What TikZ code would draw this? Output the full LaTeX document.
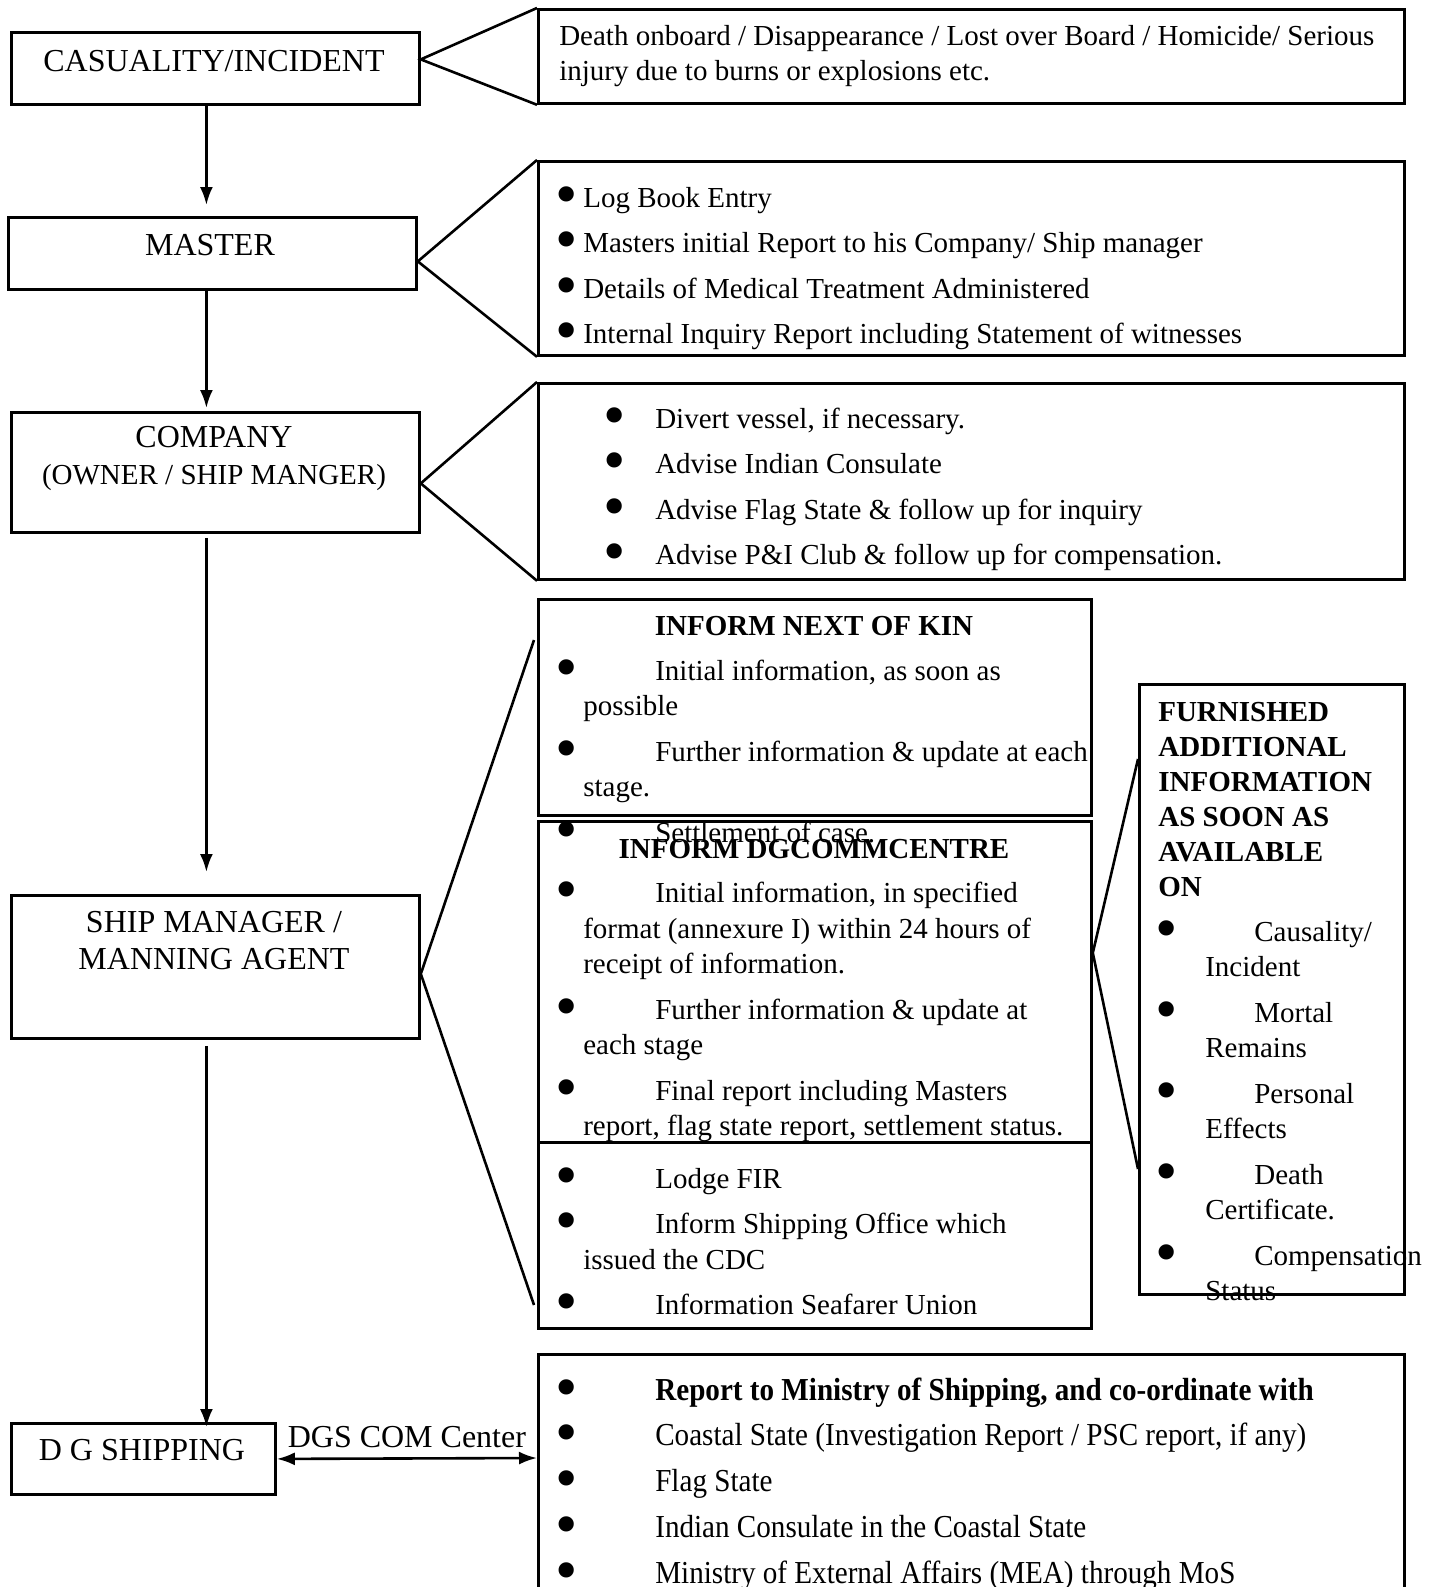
\documentclass[tikz,border=0pt]{standalone}
\usepackage{fontspec}
\setmainfont{Liberation Serif}
\newfontfamily\condserif[FakeStretch=0.91]{Liberation Serif}
\usetikzlibrary{arrows.meta}

\newcommand{\dotat}[1]{\llap{\smash{\raisebox{-8pt}{\scalebox{2.2}{\normalfont\fontsize{29}{29}\selectfont\textbullet}}}\hspace{#1}}}

\tikzset{
  box/.style={draw, line width=2.8pt, inner sep=0pt, anchor=north west},
  tag/.style={font=\fontsize{32}{37}\selectfont, align=center},
  list/.style={font=\fontsize{29}{35.5}\selectfont, align=left, anchor=base west, inner sep=0pt},
  head/.style={font=\bfseries\fontsize{29}{35}\selectfont, anchor=base, inner sep=0pt},
  fan/.style={line width=2.6pt},
}

\begin{document}
\begin{tikzpicture}[x=1pt, y=-1pt, >={Latex[length=18pt,width=13pt]}, line width=2.6pt]
\useasboundingbox (0,0) rectangle (1435,1587);
\clip (0,0) rectangle (1435,1587);

% left column
\node[box, minimum width=408, minimum height=72] (cas) at (10,31) {};
\node[box, minimum width=408, minimum height=72] (mst) at (7,216) {};
\node[box, minimum width=408, minimum height=120] (cmp) at (10,411) {};
\node[box, minimum width=408, minimum height=143] (shp) at (10,894) {};
\node[box, minimum width=264, minimum height=71] (dgs) at (10,1422) {};

\node[tag] (castxt) at (214,61) {CASUALITY/INCIDENT};
\node[tag] (msttxt) at (210,245) {MASTER};
\node[tag] (cmptxt) at (214,458) {COMPANY\\{\fontsize{29}{35}\selectfont(OWNER / SHIP MANGER)}};
\node[tag] (shptxt) at (214,941) {SHIP MANAGER /\\MANNING AGENT};
\node[tag] (dgstxt) at (142,1450) {D G SHIPPING};

% right column
\node[box, minimum width=866, minimum height=94] (death) at (537,8) {};
\node[box, minimum width=866, minimum height=194] (log) at (537,160) {};
\node[box, minimum width=866, minimum height=196] (divert) at (537,382) {};
\node[box, minimum width=553, minimum height=216] (nok) at (537,598) {};
\node[box, minimum width=553, minimum height=321] (dgc) at (537,820) {};
\node[box, minimum width=553, minimum height=186] (fir) at (537,1141) {};
\node[box, minimum width=265, minimum height=610] (furn) at (1138,683) {};
\node[box, minimum width=866, minimum height=300] (mos) at (537,1353) {};

% texts, placed by the baseline of their last line
\node[list] (deathtxt) at (558,80.5) {Death onboard / Disappearance / Lost over Board / Homicide/ Serious\\injury due to burns or explosions etc.};

\node[list] (logtxt) at (582,343.5) {\dotat{5pt}Log Book Entry\\[10pt]
\dotat{5pt}Masters initial Report to his Company/ Ship manager\\[10pt]
\dotat{5pt}Details of Medical Treatment Administered\\[10pt]
\dotat{5pt}Internal Inquiry Report including Statement of witnesses};

\node[list] (diverttxt) at (654,564.5) {\dotat{29pt}Divert vessel, if necessary.\\[10pt]
\dotat{29pt}Advise Indian Consulate\\[10pt]
\dotat{29pt}Advise Flag State \& follow up for inquiry\\[10pt]
\dotat{29pt}Advise P\&I Club \& follow up for compensation.};

\node[head] (nokhead) at (814,635) {INFORM NEXT OF KIN};
\node[list] (noktxt) at (582,842) {\dotat{5pt}\hspace*{72pt}Initial information, as soon as\\possible\\[10pt]
\dotat{5pt}\hspace*{72pt}Further information \& update at each\\stage.\\[10pt]
\dotat{5pt}\hspace*{72pt}Settlement of case.};

\node[head] (dgchead) at (814,858) {INFORM DGCOMMCENTRE};
\node[list] (dgctxt) at (582,1135.5) {\dotat{5pt}\hspace*{72pt}Initial information, in specified\\format (annexure I) within 24 hours of\\receipt of information.\\[10pt]
\dotat{5pt}\hspace*{72pt}Further information \& update at\\each stage\\[10pt]
\dotat{5pt}\hspace*{72pt}Final report including Masters\\report, flag state report, settlement status.};

\node[list] (firtxt) at (582,1314.5) {\dotat{5pt}\hspace*{72pt}Lodge FIR\\[10pt]
\dotat{5pt}\hspace*{72pt}Inform Shipping Office which\\issued the CDC\\[10pt]
\dotat{5pt}\hspace*{72pt}Information Seafarer Union};

\node[list, font=\bfseries\fontsize{29}{35}\selectfont] (furnhead) at (1157,896) {FURNISHED\\ADDITIONAL\\INFORMATION\\AS SOON AS\\AVAILABLE\\ON};
\node[list] (furntxt) at (1204,1300.5) {\dotat{27pt}\hspace*{49pt}Causality/\\Incident\\[10pt]
\dotat{27pt}\hspace*{49pt}Mortal\\Remains\\[10pt]
\dotat{27pt}\hspace*{49pt}Personal\\Effects\\[10pt]
\dotat{27pt}\hspace*{49pt}Death\\Certificate.\\[10pt]
\dotat{27pt}\hspace*{49pt}Compensation\\Status};

\node[list, font=\condserif\fontsize{32}{35.75}\selectfont] (mostxt) at (654,1583) {\dotat{77pt}\textbf{Report to Ministry of Shipping, and co-ordinate with}\\[10pt]
\dotat{77pt}Coastal State (Investigation Report / PSC report, if any)\\[10pt]
\dotat{77pt}Flag State\\[10pt]
\dotat{77pt}Indian Consulate in the Coastal State\\[10pt]
\dotat{77pt}Ministry of External Affairs (MEA) through MoS};

% fans
\coordinate (kintop) at (534,640);
\coordinate (kinbot) at (534,1305);
\coordinate (furnup) at (1138,759);
\coordinate (furndn) at (1138,1169);
\coordinate (mosin) at (537,1458);

\draw[fan] (death.north west) -- ([yshift=9pt]cas.east) -- (death.south west);
\draw[fan] (log.north west) -- ([yshift=-8pt]mst.east) -- (log.south west);
\draw[fan] (divert.north west) -- ([yshift=-11pt]cmp.east) -- (divert.south west);
\draw[fan] (kintop) -- ([yshift=-7pt]shp.east) -- (kinbot);
\draw[fan] (furnup) -- ([yshift=29pt]dgc.east) -- (furndn);

% flow
\draw[->] ([xshift=-9pt]cas.south) -- ([xshift=-6pt,yshift=11pt]mst.north);
\draw[->] ([xshift=-6pt]mst.south) -- ([xshift=-9pt,yshift=3pt]cmp.north);
\draw[->] ([xshift=-9pt,yshift=-4pt]cmp.south) -- ([xshift=-9pt,yshift=22pt]shp.north);
\draw[->] ([xshift=-9pt,yshift=-6pt]shp.south) -- ([xshift=63pt,yshift=-5pt]dgs.north);
\draw[<->] (dgs.east) -- node[above, yshift=6pt, font=\fontsize{32}{37}\selectfont] (comlbl) {DGS COM Center} (mosin);

\end{tikzpicture}
\end{document}
